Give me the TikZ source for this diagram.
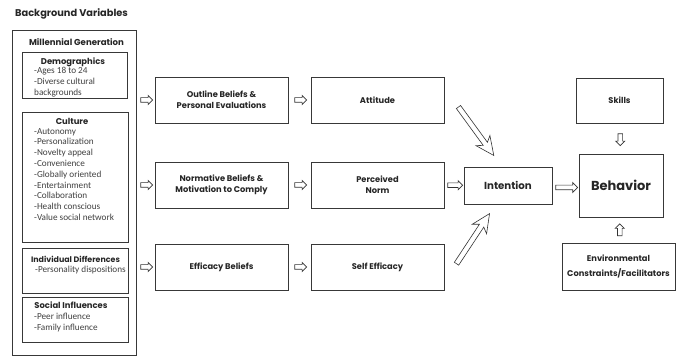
\documentclass[tikz,border=0pt]{standalone}
\usepackage{fontspec}
\newfontfamily\hf{Poppins}
\newfontfamily\lf{Carlito}
\usetikzlibrary{shapes.arrows,calc}
\begin{document}
\begin{tikzpicture}[x=1pt,y=-1pt,
  box/.style={draw=black!78, line width=0.9pt, inner sep=0pt},
  btext/.style={font=\hf\bfseries\fontsize{8.3}{11}\selectfont, align=center, text=black!85},
  head/.style={font=\hf\bfseries\fontsize{8.4}{9}\selectfont, text=black!85, inner sep=0pt},
  list/.style={font=\lf\fontsize{9.2}{10.8}\selectfont, align=left, text=black!75, inner sep=0pt, anchor=north west},
  sarrow/.style={single arrow, draw=black!80, line width=0.7pt, inner sep=2pt,
     single arrow head extend=2.2pt, minimum height=12pt},
  darrow/.style={single arrow, draw=black!80, line width=0.6pt, inner sep=2.3pt,
     single arrow head extend=6pt, single arrow tip angle=50, single arrow head indent=4pt,
     minimum height=60pt}
]
\useasboundingbox (0,0) rectangle (678,358);
\fill[white] (0,0) rectangle (678,358);

% title
\node[head, anchor=west, font=\hf\bfseries\fontsize{9.8}{11}\selectfont] (title) at (15,14) {Background Variables};

% left column
\node[box, minimum width=124pt, minimum height=325pt] (outer) at (74,192.5) {};
\node[head, font=\hf\bfseries\fontsize{8.6}{9}\selectfont] (mill) at (76.5,42) {Millennial Generation};

\node[box, minimum width=105pt, minimum height=46pt] (demo) at (74.5,75) {};
\node[head] (demoh) at (73,62) {Demographics};
\node[list] (demol) at (34,67) {-Ages 18 to 24\\-Diverse cultural\\backgrounds};

\node[box, minimum width=106pt, minimum height=130pt] (culture) at (75,177) {};
\node[head] (cultureh) at (72,121) {Culture};
\node[list] (culturel) at (34,128) {-Autonomy\\-Personalization\\-Novelty appeal\\-Convenience\\-Globally oriented\\-Entertainment\\-Collaboration\\-Health conscious\\-Value social network};

\node[box, minimum width=106pt, minimum height=45pt] (indiv) at (75,270.5) {};
\node[head, font=\hf\bfseries\fontsize{7.9}{9}\selectfont] (indivh) at (75.5,259) {Individual Differences};
\node[list] (indivl) at (35,266) {-Personality dispositions};

\node[box, minimum width=106pt, minimum height=45pt] (social) at (75,319.5) {};
\node[head] (socialh) at (71,305) {Social Influences};
\node[list] (sociall) at (34,313) {-Peer influence\\-Family influence};

% middle columns
\node[box, btext, minimum width=133pt, minimum height=46pt] (outline) at (221.5,100) {Outline Beliefs \&\\Personal Evaluations};
\node[box, btext, minimum width=133pt, minimum height=46pt] (attitude) at (377.5,100) {Attitude};
\node[box, btext, minimum width=133pt, minimum height=46pt] (normative) at (221.5,185) {Normative Beliefs \&\\Motivation to Comply};
\node[box, btext, minimum width=133pt, minimum height=46pt] (perceived) at (377.5,185) {Perceived\\Norm};
\node[box, btext, minimum width=133pt, minimum height=46pt] (efficacy) at (221.5,267) {Efficacy Beliefs};
\node[box, btext, minimum width=133pt, minimum height=46pt] (selfeff) at (377.5,267) {Self Efficacy};

% right part
\node[box, btext, font=\hf\bfseries\fontsize{10.2}{12}\selectfont, minimum width=88pt, minimum height=37pt] (intention) at (508,185.5) {Intention};
\node[box, btext, font=\hf\bfseries\fontsize{13}{15}\selectfont, minimum width=84pt, minimum height=63pt] (behavior) at (621,185.5) {Behavior};
\node[box, btext, font=\hf\bfseries\fontsize{8.3}{9}\selectfont, minimum width=87pt, minimum height=45pt] (skills) at (619.5,100.5) {Skills};
\node[box, btext, font=\hf\bfseries\fontsize{8.3}{15}\selectfont, minimum width=113pt, minimum height=47pt] (env) at (618.5,266.5) {Environmental\\Constraints/Facilitators};

% small block arrows
\node[sarrow] (a1) at ($(outer.east |- outline.west)!0.5!(outline.west)$) {};
\node[sarrow] (a2) at ($(outer.east |- normative.west)!0.5!(normative.west)$) {};
\node[sarrow] (a3) at ($(outer.east |- efficacy.west)!0.5!(efficacy.west)$) {};
\node[sarrow] (b1) at ($(outline.east)!0.5!(attitude.west)$) {};
\node[sarrow] (b2) at ($(normative.east)!0.5!(perceived.west)$) {};
\node[sarrow] (b3) at ($(efficacy.east)!0.5!(selfeff.west)$) {};
\node[sarrow, minimum height=15pt] (c1) at ($(perceived.east)!0.5!(intention.west)$) {};
\node[sarrow, minimum height=22pt, single arrow head extend=2.6pt] (c2) at ($(intention.east)!0.5!(behavior.west)+(0,2)$) {};
\node[sarrow, rotate=-90] (c3) at ($(skills.south)!0.5!(behavior.north)$) {};
\node[sarrow, rotate=90] (c4) at ($(env.north)!0.5!(behavior.south)+(0,1)$) {};

% diagonal arrows
\node[darrow, rotate=-53.9] (d1) at (474.5,129) {};
\node[darrow, rotate=56.6] (d2) at (471.5,241) {};
\end{tikzpicture}
\end{document}
